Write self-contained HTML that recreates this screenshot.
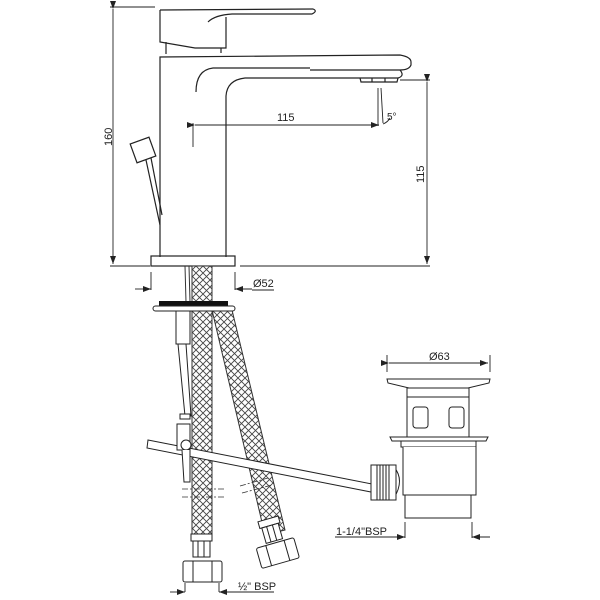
<!DOCTYPE html>
<html><head><meta charset="utf-8"><style>
html,body{margin:0;padding:0;background:#fff;width:600px;height:600px;overflow:hidden}
svg text{font-family:"Liberation Sans",sans-serif;fill:#222}
</style></head><body>
<svg width="600" height="600" viewBox="0 0 600 600" xmlns="http://www.w3.org/2000/svg">
<defs>
<pattern id="mesh" width="7" height="7" patternUnits="userSpaceOnUse">
<rect width="7" height="7" fill="#fff"/>
<path d="M0 0L7 7M7 0L0 7" stroke="#444" stroke-width="0.9"/>
</pattern>
<marker id="ar" markerWidth="8" markerHeight="6" refX="8" refY="3" orient="auto" markerUnits="userSpaceOnUse"><path d="M0 0L8 3L0 6z" fill="#222"/></marker>
</defs>
<g fill="none" stroke="#222" stroke-width="1.2">
<path d="M160 10 L313 9 Q318 11 312 14 L232 14 Q215 15 208 22"/>
<path d="M160 10 L160 42 L195 48 L226 48 L226 17"/>
<path d="M166 42 L166 54 M221 48 L221 53"/>
<path d="M160 257 L160 57 L400 55 Q411 57 411 62 L411 65 Q409 70 400 70 L310 70"/>
<path d="M400 70 Q405 76 398 78 L245 78 Q227 80 226 96 L226 257"/>
<path d="M196 92 Q196 70 213 68 L310 68"/>
<path d="M360 78 L361 82 L397 82 L398 78"/>
<path d="M372 78 L372 82 M385 78 L385 82"/>
<rect x="151" y="256" width="84" height="10"/>
<rect x="133" y="140" width="20" height="20" transform="rotate(-20 143 150)"/>
<path d="M146 160 L160 225 M151 158 L162 215"/>
</g>
<g stroke="#222" stroke-width="0.9" fill="none">
<path d="M110 7 L155 7 M110 266 L150 266"/>
<line x1="113" y1="9" x2="113" y2="264" marker-start="url(#ar)" marker-end="url(#ar)" />
<path d="M193 123 L193 147"/>
<line x1="195" y1="125" x2="379" y2="125" marker-start="url(#ar)" marker-end="url(#ar)"/>
<path d="M378 88 L378 126 M381 88 L383 123 M383 124 Q388 122 390 118"/>
<path d="M400 80 L430 80 M240 266 L430 266"/>
<line x1="427" y1="82" x2="427" y2="264" marker-start="url(#ar)" marker-end="url(#ar)"/>
<path d="M151 272 L151 290 M235 272 L235 290 M252 290 L274 290"/>
<line x1="135" y1="289" x2="151" y2="289" marker-end="url(#ar)"/>
<line x1="252" y1="289" x2="235" y2="289" marker-end="url(#ar)"/>
<path d="M387 355 L387 372 M490 355 L490 372"/>
<line x1="389" y1="363" x2="488" y2="363" marker-start="url(#ar)" marker-end="url(#ar)"/>
<path d="M335 537 L405 537 M405 522 L405 538 M472 522 L472 538"/>
<line x1="380" y1="537" x2="405" y2="537" marker-end="url(#ar)"/>
<line x1="490" y1="537" x2="472" y2="537" marker-end="url(#ar)"/>
<path d="M185 583 L185 592 M219 583 L219 592 M240 592 L274 592"/>
<line x1="170" y1="592" x2="185" y2="592" marker-end="url(#ar)"/>
<line x1="240" y1="592" x2="219" y2="592" marker-end="url(#ar)"/>
</g>
<g stroke="#333" stroke-width="1">
<path d="M212 310 L232 310 L285 530 L265 535 Z" fill="url(#mesh)"/>
<rect x="192" y="266" width="20" height="268" fill="url(#mesh)"/>
<path d="M185 266 L186 302 M189 266 L190 302" fill="none"/>
</g>
<rect x="159" y="301" width="69" height="5" fill="#111"/>
<rect x="153" y="306" width="82" height="5" rx="2.5" fill="#fff" stroke="#222"/>
<g fill="#fff" stroke="#222" stroke-width="1">
<rect x="176" y="311" width="14" height="33"/>
<path d="M178 344 L186 344 L191 416 L185 416 Z"/>
<rect x="180" y="414" width="10" height="5"/>
<path d="M148 440 L372 484 L371 492 L147 448 Z"/>
<rect x="177" y="424" width="13" height="26"/>
<circle cx="186" cy="445" r="5"/>
<path d="M182 450 L184 482 L190 482 L190 450"/>
</g>
<g stroke="#333" stroke-width="0.8" stroke-dasharray="6,2,2,2">
<path d="M182 489 L224 489 M182 497 L224 497 M240 486 L268 478 M242 493 L272 485"/>
</g>
<g fill="#fff" stroke="#222" stroke-width="1">
<rect x="191" y="534" width="21" height="7"/>
<rect x="193" y="541" width="17" height="16"/>
<path d="M198 541 L198 557 M204 541 L204 557"/>
<rect x="183" y="561" width="39" height="21" rx="2"/>
<path d="M193 561 L193 582 M212 561 L212 582"/>
<g transform="rotate(-16 275 545)">
<rect x="265" y="518" width="21" height="7"/>
<rect x="267" y="525" width="17" height="16"/>
<path d="M272 525 L272 541 M278 525 L278 541"/>
<rect x="256" y="543" width="39" height="21" rx="2"/>
<path d="M266 543 L266 564 M285 543 L285 564"/>
</g>
</g>
<g fill="#fff" stroke="#222" stroke-width="1">
<path d="M387 379 L490 379 L489 383 L468 388 L409 388 L388 383 Z"/>
<rect x="407" y="388" width="62" height="49"/>
<path d="M407 397 L469 397"/>
<rect x="413" y="407" width="15" height="21" rx="3"/>
<rect x="449" y="407" width="15" height="21" rx="3"/>
<path d="M390 437 L488 437 L486 441 L392 441 Z"/>
<rect x="401" y="441" width="75" height="6"/>
<path d="M403 447 L403 495 L476 495 L476 447"/>
<rect x="405" y="495" width="66" height="23"/>
<path d="M394 467 Q405 480 394 498"/>
<rect x="371" y="465" width="25" height="35"/>
<path d="M377 465 L377 500 M380 465 L380 500 M383 465 L383 500 M386 465 L386 500 M389 465 L389 500"/>
</g>
<text x="0" y="0" font-size="11" transform="translate(112 146) rotate(-90)">160</text>
<text x="277" y="121" font-size="11">115</text>
<text x="387" y="120" font-size="10">5°</text>
<text x="0" y="0" font-size="11" transform="translate(424 183) rotate(-90)">115</text>
<text x="253" y="287" font-size="11">Ø52</text>
<text x="429" y="360" font-size="11">Ø63</text>
<text x="336" y="535" font-size="11">1-1/4"BSP</text>
<text x="238" y="590" font-size="11">½" BSP</text>
</svg>
</body></html>
